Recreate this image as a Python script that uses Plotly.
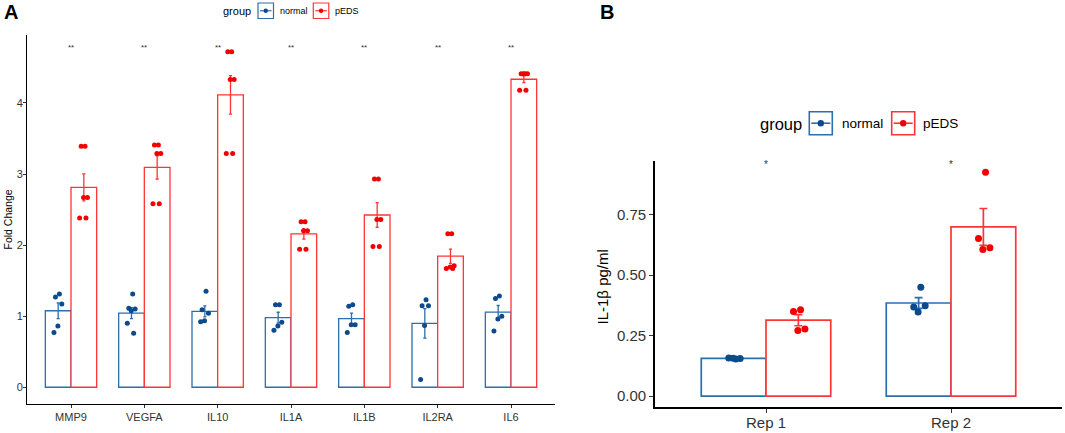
import numpy as np
import plotly.graph_objects as go

# panel A - fold change per gene (qPCR), normal vs pEDS
genes = ["MMP9", "VEGFA", "IL10", "IL1A", "IL1B", "IL2RA", "IL6"]
normal_fc = [
    [1.31, 1.27, 1.17, 0.86, 0.77],
    [1.31, 1.11, 1.10, 1.075, 0.90, 0.76],
    [1.35, 1.09, 1.04, 0.935, 0.92],
    [1.16, 1.16, 0.915, 0.86, 0.80],
    [1.16, 1.14, 0.88, 0.88, 0.77],
    [1.23, 1.145, 1.145, 0.87, 0.107],
    [1.285, 1.25, 1.00, 0.96, 0.79],
]
peds_fc = [
    [3.39, 3.39, 2.67, 2.67, 2.38, 2.38],
    [3.41, 3.41, 3.29, 3.29, 2.58, 2.58],
    [4.72, 4.72, 4.33, 4.33, 3.29, 3.29],
    [2.33, 2.33, 2.20, 2.20, 1.94, 1.94],
    [2.93, 2.93, 2.36, 2.36, 1.98, 1.98],
    [2.16, 2.16, 1.71, 1.69, 1.67, 1.67],
    [4.41, 4.41, 4.41, 4.41, 4.18, 4.18],
]
sig_a = ["**"] * 7
sig_y_a = 4.78

# panel B - IL-1b ELISA
reps = ["Rep 1", "Rep 2"]
normal_il1b = [[0.153, 0.158, 0.156, 0.157], [0.45, 0.368, 0.373, 0.348]]
peds_il1b = [[0.357, 0.35, 0.277, 0.271], [0.925, 0.651, 0.613, 0.606]]
sig_b = ["*", "*"]
sig_y_b = 0.955

W, H = 1065, 433
BLUE_LINE, BLUE_PT = "#2A6FAE", "#0C4A8E"
RED_LINE, RED_PT = "#FF3535", "#F20000"
FONT = "Liberation Sans, Arial, sans-serif"
DODGE = 0.7 / 4  # half of one bar (ggplot dodge 0.7)


def px(x):
    return x / W


def py(y):
    return 1 - y / H


def jitter(n, width):
    # deterministic spread instead of random jitter
    return [width * ((((k + 1) * 0.618034) % 1) * 2 - 1) for k in range(n)]


def add_panel(fig, normal, peds, xa, ya, pt_size, lw, cap, jit):
    for vals, name, lc, pc, side in [(normal, "normal", BLUE_LINE, BLUE_PT, -1),
                                     (peds, "pEDS", RED_LINE, RED_PT, 1)]:
        means = [np.mean(v) for v in vals]
        ses = [np.std(v, ddof=1) / np.sqrt(len(v)) for v in vals]
        fig.add_trace(go.Bar(
            x=list(range(len(vals))), y=means, name=name, offsetgroup=name,
            marker=dict(color="white", line=dict(color=lc, width=lw)),
            error_y=dict(type="data", array=ses, color=lc, thickness=lw, width=cap),
            xaxis=xa, yaxis=ya, showlegend=False))
        xs, ys = [], []
        for i, v in enumerate(vals):
            xs += [i + side * DODGE + j for j in jitter(len(v), jit)]
            ys += list(v)
        fig.add_trace(go.Scatter(
            x=xs, y=ys, mode="markers", marker=dict(color=pc, size=pt_size),
            xaxis=xa, yaxis=ya, showlegend=False))


def legend_key(fig, x0, y0, s, line_c, pt_c, lw, r):
    ym = y0 + s / 2
    fig.add_shape(type="rect", xref="paper", yref="paper",
                  x0=px(x0), x1=px(x0 + s), y0=py(y0 + s), y1=py(y0),
                  line=dict(color=line_c, width=lw), fillcolor="white")
    fig.add_shape(type="line", xref="paper", yref="paper",
                  x0=px(x0 + 2), x1=px(x0 + s - 2), y0=py(ym), y1=py(ym),
                  line=dict(color=line_c, width=lw))
    fig.add_shape(type="circle", xref="paper", yref="paper",
                  x0=px(x0 + s / 2 - r), x1=px(x0 + s / 2 + r),
                  y0=py(ym + r), y1=py(ym - r),
                  fillcolor=pt_c, line=dict(color=pt_c, width=0))


def text(fig, s, x, y, size, anchor="left", angle=0, bold=False, color="black"):
    fig.add_annotation(text="<b>%s</b>" % s if bold else s, x=px(x), y=py(y),
                       xref="paper", yref="paper", showarrow=False,
                       xanchor=anchor, yanchor="middle", textangle=angle,
                       font=dict(family=FONT, size=size, color=color))


fig = go.Figure()
add_panel(fig, normal_fc, peds_fc, "x", "y", 5, 1.3, 1.6, 0.07)
add_panel(fig, normal_il1b, peds_il1b, "x2", "y2", 7, 1.7, 4, 0.05)

for i, s in enumerate(sig_a):
    fig.add_annotation(x=i, y=sig_y_a, xref="x", yref="y", text=s, showarrow=False,
                       font=dict(family=FONT, size=8, color="#333333"))
for i, s in enumerate(sig_b):
    fig.add_annotation(x=i, y=sig_y_b, xref="x2", yref="y2", text=s, showarrow=False,
                       font=dict(family=FONT, size=10, color="#333333"))

# legends drawn like the ggplot keys
text(fig, "group", 221, 10.5, 11)
legend_key(fig, 258, 3, 15.5, BLUE_LINE, BLUE_PT, 1.2, 2.2)
text(fig, "normal", 277.5, 10.5, 9)
legend_key(fig, 313.3, 3, 15.5, RED_LINE, RED_PT, 1.2, 2.2)
text(fig, "pEDS", 332.5, 10.5, 9)

text(fig, "group", 757.5, 124, 16.5)
legend_key(fig, 809.3, 111.7, 23, BLUE_LINE, BLUE_PT, 1.6, 3.2)
text(fig, "normal", 840, 124, 13.5)
legend_key(fig, 891.7, 111.7, 23, RED_LINE, RED_PT, 1.6, 3.2)
text(fig, "pEDS", 921, 124, 13.5)

# panel letters and axis titles
text(fig, "A", 10.5, 12, 20, anchor="center", bold=True)
text(fig, "B", 607, 12, 20, anchor="center", bold=True)
text(fig, "Fold Change", 7.5, 220, 10.5, anchor="center", angle=-90)
text(fig, "IL-1β pg/ml", 601.5, 287, 15, anchor="center", angle=-90)

axis_common = dict(showline=True, linecolor="black", ticks="outside", tickcolor="#333333",
                   showgrid=False, zeroline=False)
fig.update_layout(
    width=W, height=H, margin=dict(l=0, r=0, t=0, b=0),
    barmode="group", bargap=0.3, bargroupgap=0,
    plot_bgcolor="white", paper_bgcolor="white", showlegend=False,
    font=dict(family=FONT),
    xaxis=dict(domain=[px(27), px(555)], range=[-0.6, 6.6], anchor="y",
               tickvals=list(range(len(genes))), ticktext=genes,
               linewidth=1.1, ticklen=3, tickwidth=1,
               tickfont=dict(size=11, color="#333333"), **axis_common),
    yaxis=dict(domain=[py(404), py(35)], range=[-0.236, 4.956], anchor="x",
               tickvals=[0, 1, 2, 3, 4], linewidth=1.1, ticklen=3, tickwidth=1,
               ticklabelstandoff=-2,
               tickfont=dict(size=11, color="#333333"), **axis_common),
    xaxis2=dict(domain=[px(655), px(1062)], range=[-0.6, 1.6], anchor="y2",
                tickvals=list(range(len(reps))), ticktext=reps,
                linewidth=1.6, ticklen=4, tickwidth=1.4, ticklabelstandoff=-3,
                tickfont=dict(size=15, color="#333333"), **axis_common),
    yaxis2=dict(domain=[py(407.3), py(161)], range=[-0.046, 0.971], anchor="x2",
                tickvals=[0, 0.25, 0.5, 0.75], tickformat=".2f",
                linewidth=1.6, ticklen=4, tickwidth=1.4,
                tickfont=dict(size=15, color="#333333"), **axis_common),
)

# the page's default 8px body margin would shift the whole figure
fig.write_html("out.html", config={"displayModeBar": False},
               post_script="document.body.style.margin='0';")
